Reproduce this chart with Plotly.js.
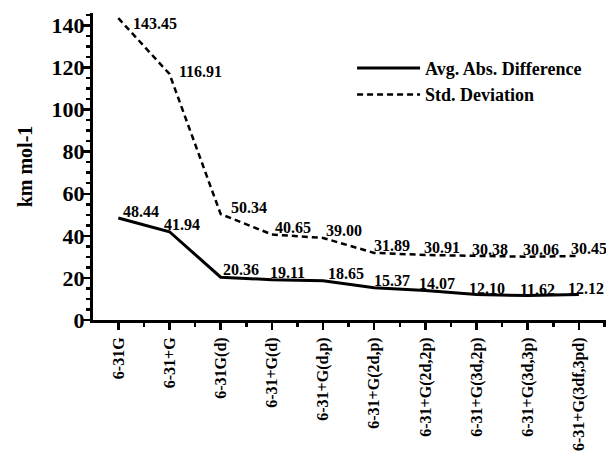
<!DOCTYPE html>
<html><head><meta charset="utf-8">
<script src="https://cdn.plot.ly/plotly-3.0.1.min.js"></script>
<style>html,body{margin:0;padding:0;background:#fff}#c{width:606px;height:451px}</style>
</head><body><div id="c"></div>
<script>
const categories = ["6-31G","6-31+G","6-31G(d)","6-31+G(d)","6-31+G(d,p)","6-31+G(2d,p)","6-31+G(2d,2p)","6-31+G(3d,2p)","6-31+G(3d,3p)","6-31+G(3df,3pd)"];
const avgAbsDiff = [48.44,41.94,20.36,19.11,18.65,15.37,14.07,12.10,11.62,12.12];
const stdDev = [143.45,116.91,50.34,40.65,39.00,31.89,30.91,30.38,30.06,30.45];
const seriesNames = ["Avg. Abs. Difference","Std. Deviation"];
const yTickVals = [0,20,40,60,80,100,120,140];

// label style offsets (px) — styling only
const avgLabelDx = [3, -8, 0, -4, 3, -2, -8, -10, -10, -13];
const stdLabelDx = [13, 7, 8, 1, 1, -2, -3, -7, -7, -10];
const stdLabelDy = [-5, 3, 7, 7, 7, 7, 7, 7, 7, 7];
const avgLabelDy = [7, 7, 8, 7, 7, 7, 7, 6, 6, 6];

const idx = categories.map((_, i) => i);
const font = "Liberation Serif, Times New Roman, serif";
const lblFont = {family: font, size: 16, color: "#000", weight: "bold"};

const traces = [
  {x: idx, y: avgAbsDiff, name: seriesNames[0], mode: "lines", type: "scatter",
   line: {color: "#000", width: 3}},
  {x: idx, y: stdDev, name: seriesNames[1], mode: "lines", type: "scatter",
   line: {color: "#000", width: 2.5, dash: "6px,4px"}}
];

function labels(vals, dx, dy) {
  return vals.map((v, i) => ({
    x: idx[i], y: v, xref: "x", yref: "y", text: v.toFixed(2), showarrow: false,
    xanchor: "left", yanchor: "middle", xshift: dx[i], yshift: dy[i],
    font: lblFont
  }));
}

const layout = {
  width: 606, height: 451,
  margin: {l: 93, r: 0, t: 13, b: 131},
  paper_bgcolor: "#fff", plot_bgcolor: "#fff",
  showlegend: true,
  legend: {x: 0.505, y: 0.88, xanchor: "left", yanchor: "top", bgcolor: "rgba(0,0,0,0)",
           font: {family: font, size: 18, color: "#000", weight: "bold"}, itemwidth: 63},
  annotations: labels(avgAbsDiff, avgLabelDx, avgLabelDy).concat(labels(stdDev, stdLabelDx, stdLabelDy)),
  xaxis: {
    range: [-0.495, 9.53], tickmode: "array", tickvals: idx, ticktext: categories,
    tickangle: -90, ticks: "outside", ticklen: 7, tickwidth: 2.5, tickcolor: "#000",
    showline: true, linewidth: 3, linecolor: "#000", showgrid: false, zeroline: false,
    ticklabelstandoff: 1,
    tickfont: {family: font, size: 16, color: "#000", weight: "bold"},
    minor: {tick0: 0.5, dtick: 1, ticks: "outside", ticklen: 4, tickwidth: 2.5, tickcolor: "#000", showgrid: false}
  },
  yaxis: {
    range: [0, 145.9], tickmode: "array", tickvals: yTickVals,
    ticks: "outside", ticklen: 7, tickwidth: 2.5, tickcolor: "#000",
    showline: true, linewidth: 3, linecolor: "#000", showgrid: false, zeroline: false,
    ticklabelstandoff: -6,
    tickfont: {family: font, size: 22, color: "#000", weight: "bold"},
    minor: {tick0: 0, dtick: 5, ticks: "outside", ticklen: 4, tickwidth: 2.5, tickcolor: "#000", showgrid: false},
    title: {text: "km mol-1", font: {family: font, size: 20, color: "#000", weight: "bold"}, standoff: 14}
  }
};
Plotly.newPlot("c", traces, layout, {staticPlot: true, displayModeBar: false});
</script></body></html>
